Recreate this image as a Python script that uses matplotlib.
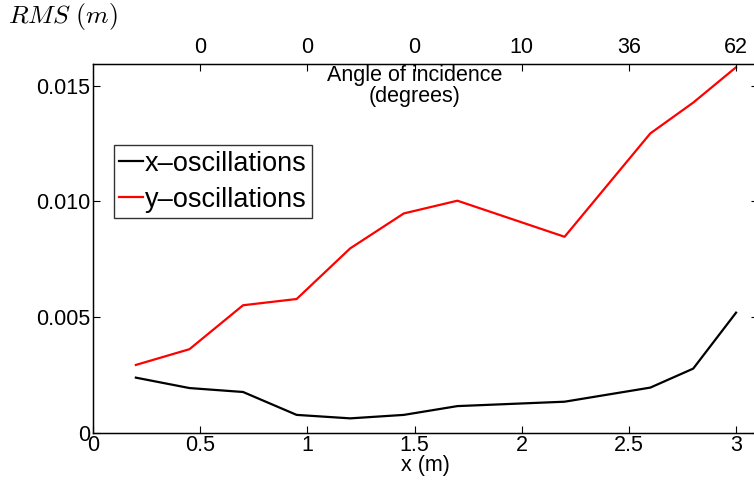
import matplotlib
matplotlib.use('Agg')
import matplotlib.pyplot as plt

# Measurement positions along the sample (m)
x_pos = [0.2, 0.45, 0.7, 0.95, 1.2, 1.45, 1.7, 2.2, 2.6, 2.8, 3.0]
# RMS amplitude of the oscillations (m)
rms_x = [0.00238, 0.00193, 0.00176, 0.00077, 0.00062, 0.00077,
         0.00115, 0.00134, 0.00195, 0.00277, 0.00519]
rms_y = [0.00293, 0.00361, 0.00551, 0.00578, 0.00797, 0.00948,
         0.01003, 0.00847, 0.01294, 0.01427, 0.0158]

# Angle of incidence shown on the top axis
angle_ticks = [0.5, 1.0, 1.5, 2.0, 2.5, 3.0]
angle_labels = ['0', '0', '0', '10', '36', '62']

plt.rcParams['font.family'] = ['Liberation Sans', 'DejaVu Sans']
plt.rcParams['mathtext.fontset'] = 'cm'

W, H = 754, 484
fig = plt.figure(figsize=(W / 100, H / 100), dpi=100)
left, right, top, bottom = 93, 757.5, 64, 432.7
ax = fig.add_axes([left / W, 1 - bottom / H, (right - left) / W, (bottom - top) / H])

ax.plot(x_pos, rms_x, color='black', lw=1.6, label='x\u2013oscillations')
ax.plot(x_pos, rms_y, color='#ff0000', lw=1.6, label='y\u2013oscillations')

fs = 15.5
ax.set_xlim(0, 3.1)
ax.set_ylim(0, 0.01594)
ax.set_xticks([0, 0.5, 1, 1.5, 2, 2.5, 3])
ax.set_xticklabels(['0', '0.5', '1', '1.5', '2', '2.5', '3'])
ax.set_yticks([0, 0.005, 0.010, 0.015])
ax.set_yticklabels(['0', '0.005', '0.010', '0.015'])
ax.tick_params(direction='in', length=5, width=0.8, labelsize=fs,
               right=True, top=False, pad=2)
for s in ax.spines.values():
    s.set_linewidth(1.0)

ax.set_xlabel('x (m)', fontsize=fs, labelpad=-1)

# top axis with the angle of incidence
ax2 = ax.twiny()
ax2.set_xlim(ax.get_xlim())
ax2.set_xticks(angle_ticks)
ax2.set_xticklabels(angle_labels)
ax2.tick_params(direction='in', length=5, width=0.8, labelsize=fs, pad=4)
ax.text(1.5, 0.01594 - 0.00004, 'Angle of incidence\n(degrees)', ha='center', va='top',
        fontsize=fs, linespacing=1.0)

leg = ax.legend(loc='upper left', bbox_to_anchor=(0.031, 0.78), fontsize=19.5,
                frameon=True, fancybox=False, handlelength=0.9, handletextpad=0.05,
                borderpad=0.2, labelspacing=0.38, borderaxespad=0)
leg.get_frame().set_edgecolor('black')
leg.get_frame().set_linewidth(1.0)

fig.text(8 / W, 1 - 16 / H, r'$RMS\ (m)$', fontsize=18.5, va='center', ha='left')

fig.savefig('out.png', dpi=100)
